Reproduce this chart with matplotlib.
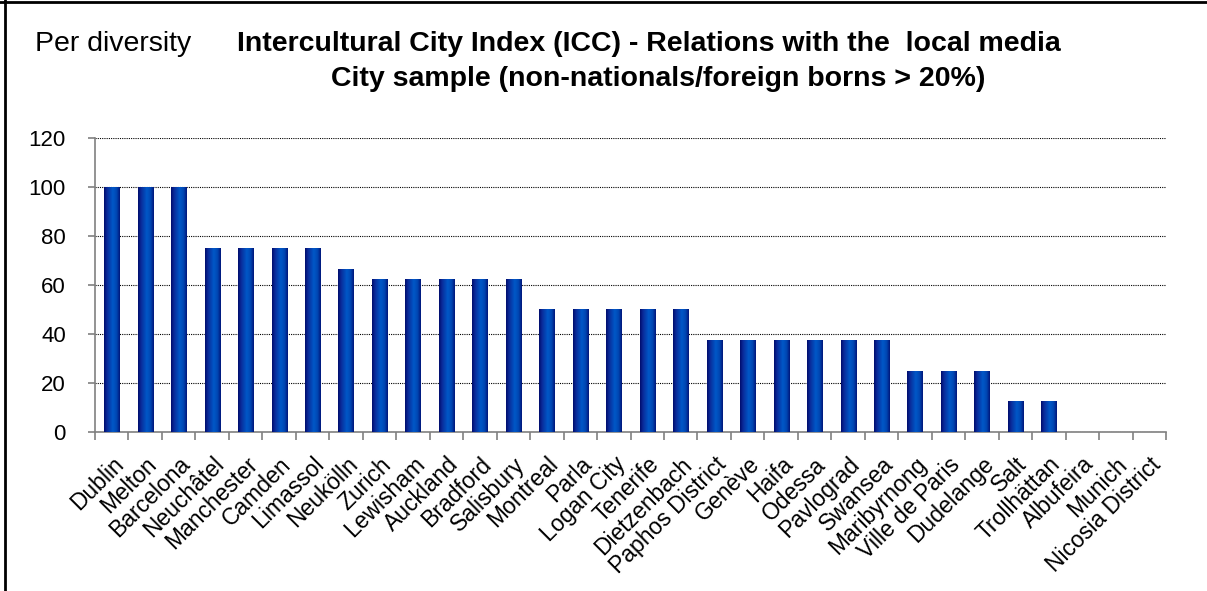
import numpy as np
import matplotlib
matplotlib.use("Agg")
import matplotlib.pyplot as plt
from matplotlib.colors import LinearSegmentedColormap
from matplotlib.lines import Line2D

plt.rcParams['font.family'] = ['Liberation Sans', 'DejaVu Sans']

cities = ["Dublin", "Melton", "Barcelona", "Neuchâtel", "Manchester", "Camden",
          "Limassol", "Neukölln", "Zurich", "Lewisham", "Auckland", "Bradford",
          "Salisbury", "Montreal", "Parla", "Logan City", "Tenerife", "Dietzenbach",
          "Paphos District", "Genève", "Haifa", "Odessa", "Pavlograd", "Swansea",
          "Maribyrnong", "Ville de Paris", "Dudelange", "Salt", "Trollhättan",
          "Albufeira", "Munich", "Nicosia District"]
scores = [100, 100, 100, 75, 75, 75, 75, 66.7, 62.5, 62.5, 62.5, 62.5, 62.5,
          50, 50, 50, 50, 50, 37.5, 37.5, 37.5, 37.5, 37.5, 37.5,
          25, 25, 25, 12.5, 12.5, 0, 0, 0]
yticks = [0, 20, 40, 60, 80, 100, 120]

fig = plt.figure(figsize=(12.07, 5.91), dpi=100)
ax = fig.add_axes([95 / 1207, 1 - 432 / 591, (1166 - 95) / 1207, (432 - 138) / 591])

x = np.arange(len(cities))
bars = ax.bar(x, scores, width=0.45, color='#0050c0', linewidth=0, zorder=2)

# cylinder-style shading across each bar
shade = LinearSegmentedColormap.from_list(
    "shade", [(0, '#000c6c'), (0.18, '#0a2a98'), (0.55, '#0058c8'),
              (0.8, '#0046b2'), (1, '#00167a')])
grad = np.linspace(0, 1, 64).reshape(1, -1)
for b in bars:
    h = b.get_height()
    if h <= 0:
        continue
    x0 = b.get_x()
    img = ax.imshow(grad, cmap=shade, aspect='auto', zorder=3,
                    extent=(x0, x0 + b.get_width(), 0, h), interpolation='bilinear')
    img.set_clip_path(b)

ax.set_xlim(-0.5, len(cities) - 0.5)
ax.set_ylim(0, 120)
ax.set_yticks(yticks)
ax.yaxis.grid(True, linestyle=(0, (1, 1)), color='black', linewidth=0.8, zorder=1)
ax.set_axisbelow(True)

ax.set_xticks(x)
ax.set_xticklabels(cities, rotation=45, ha='right', rotation_mode='anchor', fontsize=16.5)
ax.set_xticks(np.arange(len(cities) + 1) - 0.5, minor=True)
ax.tick_params(axis='x', which='major', length=0, pad=15)
ax.tick_params(axis='x', which='minor', length=6, color='#808080', width=1.2)
ax.tick_params(axis='y', length=5, color='#808080', width=1.2, labelsize=16, pad=16)

for side in ('top', 'right'):
    ax.spines[side].set_visible(False)
for side in ('left', 'bottom'):
    ax.spines[side].set_color('#808080')
    ax.spines[side].set_linewidth(1.2)

fig.text(35 / 1207, 1 - 51 / 591, "Per diversity", fontsize=20.5,
         va='baseline', ha='left')
fig.text(649 / 1207, 1 - 51 / 591,
         "Intercultural City Index (ICC) - Relations with the  local media",
         fontsize=20.5, fontweight='bold', va='baseline', ha='center')
fig.text(658 / 1207, 1 - 86 / 591,
         "City sample (non-nationals/foreign borns > 20%)",
         fontsize=20.5, fontweight='bold', va='baseline', ha='center')

# frame along the top and left edges of the figure
fig.add_artist(Line2D([0, 1], [1 - 2 / 591, 1 - 2 / 591], color='black', linewidth=2,
                      transform=fig.transFigure))
fig.add_artist(Line2D([5 / 1207, 5 / 1207], [0, 1], color='black', linewidth=2,
                      transform=fig.transFigure))

fig.savefig("out.png", dpi=100)
